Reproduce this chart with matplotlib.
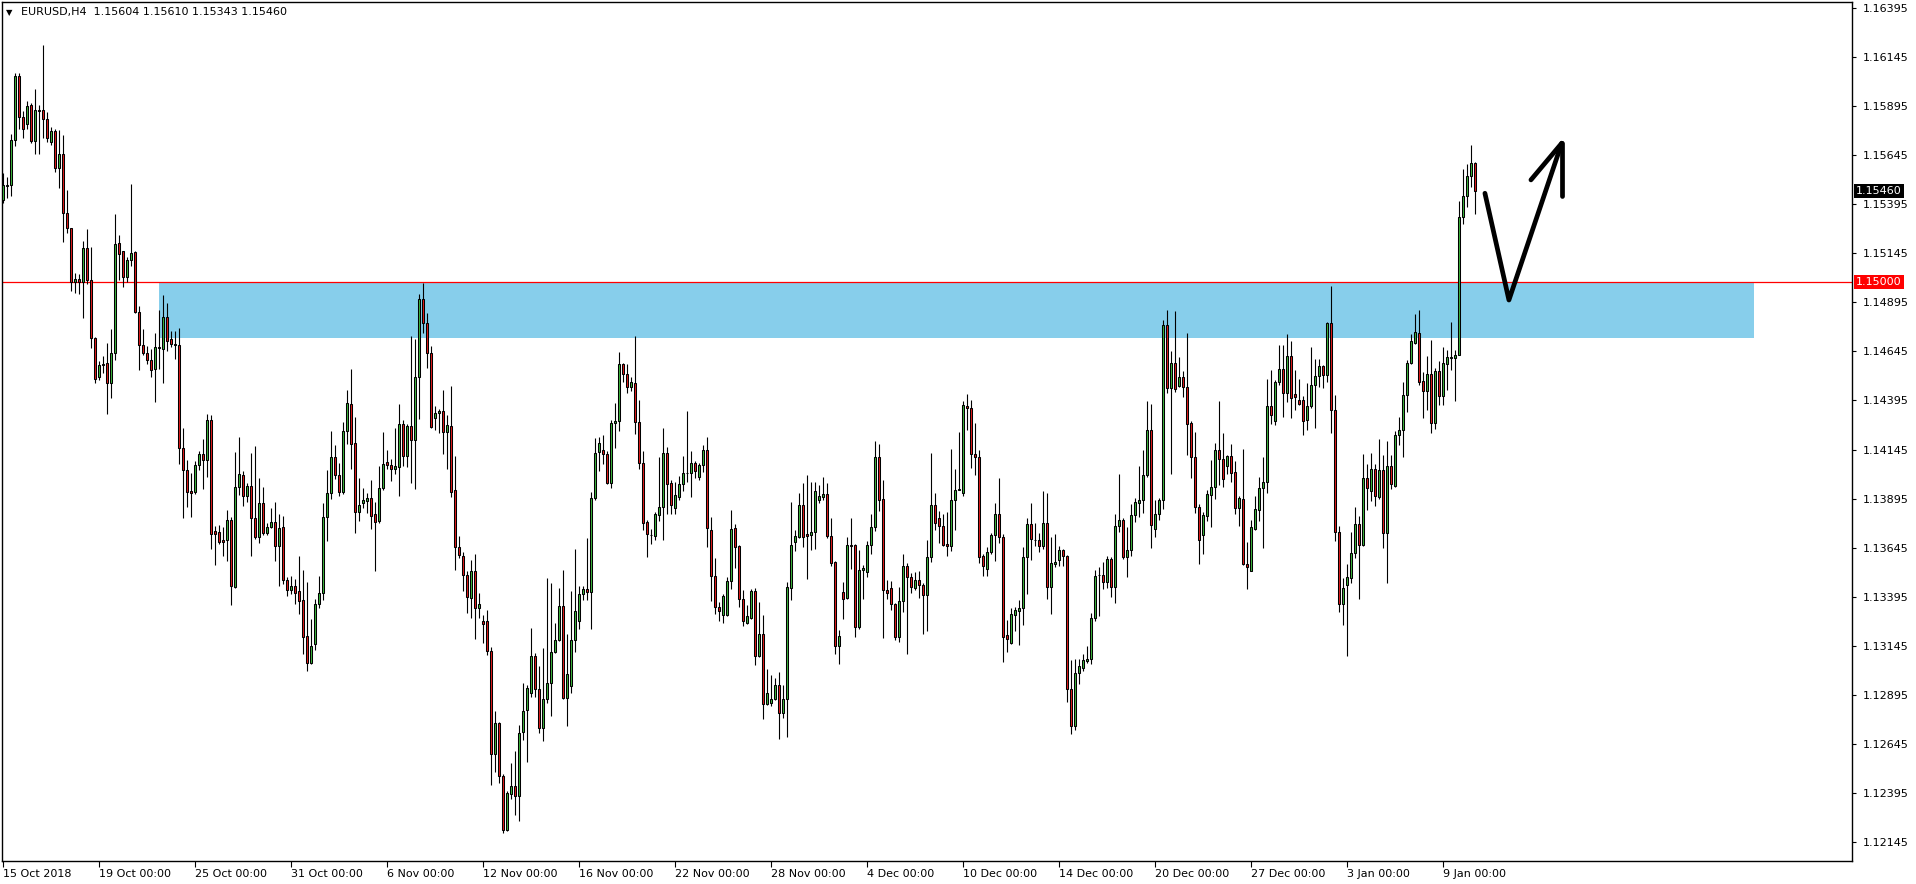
import numpy as np
import matplotlib
matplotlib.use("Agg")
import matplotlib.pyplot as plt
from matplotlib.patches import Rectangle

# ---------------- data (EURUSD H4) ----------------
open_ = [
 1.15416,1.15490,1.15493,1.15722,1.16048,1.15838,1.15802,1.15900,1.15719,1.15875,
 1.15875,1.15827,1.15713,1.15768,1.15578,1.15651,1.15348,1.15272,1.15000,1.15013,
 1.15000,1.15170,1.15008,1.14711,1.14515,1.14575,1.14587,1.14486,1.14639,1.15195,
 1.15156,1.15025,1.15110,1.15153,1.14847,1.14680,1.14637,1.14603,1.14553,1.14666,
 1.14655,1.14819,1.14708,1.14681,1.14676,1.14154,1.14043,1.13935,1.13930,1.14064,
 1.14120,1.14094,1.14298,1.13729,1.13726,1.13683,1.13683,1.13788,1.13442,1.13955,
 1.14013,1.13910,1.13958,1.13794,1.13700,1.13875,1.13720,1.13751,1.13778,1.13654,
 1.13749,1.13482,1.13431,1.13448,1.13423,1.13377,1.13193,1.13057,1.13156,1.13360,
 1.13416,1.13799,1.13926,1.14105,1.14015,1.13930,1.14239,1.14375,1.14176,1.13828,
 1.13873,1.13884,1.13897,1.13814,1.13781,1.13947,1.14084,1.14064,1.14047,1.14057,
 1.14273,1.14113,1.14263,1.14196,1.14513,1.14910,1.14788,1.14638,1.14304,1.14329,
 1.14343,1.14234,1.14264,1.13938,1.13649,1.13601,1.13505,1.13391,1.13527,1.13340,
 1.13270,1.13270,1.13117,1.12595,1.12751,1.12479,1.12204,1.12391,1.12430,1.12379,
 1.12705,1.12816,1.12904,1.13093,1.12927,1.12728,1.12872,1.12957,1.13114,1.13173,
 1.13346,1.12879,1.12940,1.13173,1.13270,1.13411,1.13435,1.13420,1.13896,1.14130,
 1.14145,1.14120,1.13975,1.14278,1.14290,1.14579,1.14528,1.14465,1.14482,1.14286,
 1.14074,1.13775,1.13708,1.13703,1.13810,1.13853,1.14125,1.13972,1.13848,1.13901,
 1.13967,1.14026,1.14028,1.14074,1.14006,1.14064,1.14142,1.13737,1.13501,1.13343,
 1.13304,1.13304,1.13474,1.13743,1.13653,1.13384,1.13261,1.13287,1.13426,1.13093,
 1.13204,1.12850,1.12853,1.12875,1.12943,1.12804,1.12875,1.13437,1.13675,1.13700,
 1.13862,1.13714,1.13712,1.13727,1.13890,1.13904,1.13916,1.13703,1.13572,1.13144,
 1.13418,1.13386,1.13661,1.13658,1.13241,1.13533,1.13522,1.13661,1.13750,1.14105,
 1.13892,1.13428,1.13437,1.13360,1.13190,1.13372,1.13554,1.13496,1.13437,1.13479,
 1.13457,1.13406,1.13595,1.13862,1.13794,1.13756,1.13666,1.13654,1.13887,1.13941,
 1.13924,1.14366,1.14355,1.14122,1.14105,1.13601,1.13538,1.13623,1.13709,1.13819,
 1.13697,1.13199,1.13161,1.13304,1.13323,1.13335,1.13595,1.13768,1.13683,1.13683,
 1.13654,1.13773,1.13445,1.13564,1.13584,1.13632,1.13603,1.12927,1.12736,1.13008,
 1.13033,1.13068,1.13080,1.13289,1.13506,1.13506,1.13470,1.13586,1.13445,1.13756,
 1.13788,1.13598,1.13635,1.13809,1.13875,1.13890,1.14015,1.14247,1.13742,1.13814,
 1.13890,1.14778,1.14457,1.14584,1.14470,1.14516,1.14462,1.14278,1.14105,1.13853,
 1.13709,1.13805,1.13912,1.13956,1.14145,1.14099,1.14062,1.14111,1.14033,1.13847,
 1.13895,1.13564,1.13528,1.13740,1.13835,1.13950,1.13981,1.14369,1.14292,1.14487,
 1.14554,1.14433,1.14620,1.14426,1.14395,1.14395,1.14297,1.14369,1.14473,1.14521,
 1.14570,1.14525,1.14789,1.14349,1.13726,1.13359,1.13455,1.13490,1.13616,1.13766,
 1.13657,1.13999,1.13933,1.14047,1.13904,1.14042,1.13719,1.14059,1.13961,1.14218,
 1.14244,1.14421,1.14585,1.14689,1.14740,1.14494,1.14444,1.14528,1.14280,1.14547,
 1.14418,1.14582,1.14614,1.14614,1.14628,1.15332,1.15439,1.15539,1.15604]
high = [
 1.15552,1.15535,1.15753,1.16062,1.16062,1.15870,1.15921,1.15912,1.15980,1.15900,
 1.16207,1.15865,1.15790,1.15780,1.15773,1.15748,1.15467,1.15275,1.15047,1.15039,
 1.15209,1.15268,1.15175,1.14720,1.14595,1.14620,1.14690,1.14758,1.15345,1.15238,
 1.15158,1.15127,1.15498,1.15156,1.14876,1.14758,1.14671,1.14659,1.14740,1.14856,
 1.14933,1.14893,1.14750,1.14750,1.14763,1.14253,1.14094,1.14023,1.14088,1.14137,
 1.14198,1.14326,1.14320,1.13756,1.13763,1.13751,1.13836,1.13799,1.14134,1.14207,
 1.14037,1.13972,1.14128,1.14162,1.13998,1.13952,1.13773,1.13846,1.13877,1.13816,
 1.13805,1.13496,1.13499,1.13484,1.13601,1.13530,1.13469,1.13280,1.13382,1.13499,
 1.13875,1.14040,1.14239,1.14168,1.14074,1.14283,1.14448,1.14555,1.14312,1.13999,
 1.13947,1.13924,1.13989,1.13877,1.14060,1.14234,1.14142,1.14098,1.14256,1.14377,
 1.14295,1.14273,1.14723,1.14706,1.14938,1.14994,1.14840,1.14672,1.14366,1.14350,
 1.14448,1.14321,1.14468,1.14111,1.13703,1.13624,1.13527,1.13584,1.13615,1.13416,
 1.13300,1.13326,1.13139,1.12813,1.12757,1.12493,1.12403,1.12547,1.12607,1.12743,
 1.12957,1.12947,1.13236,1.13110,1.13041,1.13136,1.13488,1.13467,1.13261,1.13437,
 1.13533,1.13204,1.13423,1.13639,1.13450,1.13450,1.13692,1.13930,1.14202,1.14210,
 1.14219,1.14139,1.14295,1.14383,1.14644,1.14584,1.14579,1.14513,1.14725,1.14397,
 1.14139,1.13785,1.13740,1.13828,1.14108,1.14253,1.14156,1.13992,1.13980,1.14010,
 1.14111,1.14341,1.14137,1.14088,1.14077,1.14168,1.14210,1.13802,1.13593,1.13367,
 1.13408,1.13496,1.13836,1.13765,1.13661,1.13428,1.13351,1.13433,1.13440,1.13369,
 1.13300,1.13025,1.12994,1.12983,1.13010,1.12943,1.13471,1.13878,1.13734,1.13921,
 1.13972,1.14015,1.13979,1.13980,1.13962,1.14003,1.13972,1.13794,1.13576,1.13224,
 1.13469,1.13697,1.13794,1.13663,1.13635,1.13559,1.13680,1.13819,1.14188,1.14173,
 1.13989,1.13480,1.13476,1.13363,1.13442,1.13612,1.13567,1.13516,1.13520,1.13525,
 1.13465,1.13683,1.14125,1.13926,1.13833,1.13819,1.13828,1.14150,1.14045,1.14235,
 1.14392,1.14428,1.14397,1.14278,1.14145,1.13615,1.13649,1.13720,1.13871,1.13998,
 1.13714,1.13275,1.13335,1.13343,1.13377,1.13646,1.13794,1.13871,1.13771,1.13720,
 1.13933,1.13921,1.13697,1.13717,1.13653,1.13640,1.13607,1.13071,1.13076,1.13080,
 1.13105,1.13142,1.13314,1.13533,1.13547,1.13572,1.13601,1.13598,1.13819,1.14019,
 1.13794,1.13751,1.13867,1.13900,1.14060,1.14142,1.14392,1.14377,1.13887,1.13900,
 1.14805,1.14856,1.14647,1.14851,1.14618,1.14545,1.14740,1.14290,1.14234,1.13869,
 1.13826,1.13938,1.14090,1.14180,1.14390,1.14228,1.14119,1.14171,1.14085,1.13907,
 1.14148,1.13676,1.13786,1.13907,1.14007,1.14107,1.14504,1.14550,1.14499,1.14677,
 1.14680,1.14735,1.14697,1.14549,1.14507,1.14418,1.14482,1.14666,1.14606,1.14604,
 1.14577,1.14796,1.14978,1.14425,1.13757,1.13490,1.13564,1.13723,1.13852,1.13805,
 1.14123,1.14073,1.14125,1.14073,1.14197,1.14119,1.14188,1.14116,1.14240,1.14309,
 1.14490,1.14601,1.14735,1.14835,1.14856,1.14539,1.14620,1.14702,1.14563,1.14597,
 1.14666,1.14651,1.14796,1.14654,1.15413,1.15575,1.15600,1.15697,1.15610]
low = [
 1.15399,1.15425,1.15438,1.15693,1.15776,1.15734,1.15776,1.15708,1.15651,1.15651,
 1.15731,1.15713,1.15697,1.15561,1.15476,1.15204,1.15246,1.14954,1.14945,1.14940,
 1.14813,1.14991,1.14660,1.14485,1.14501,1.14535,1.14328,1.14408,1.14600,1.15011,
 1.14974,1.15000,1.15081,1.14840,1.14549,1.14625,1.14583,1.14515,1.14389,1.14553,
 1.14485,1.14649,1.14669,1.14608,1.14069,1.13794,1.13853,1.13802,1.13916,1.14040,
 1.13945,1.14003,1.13639,1.13559,1.13666,1.13603,1.13578,1.13355,1.13437,1.13912,
 1.13858,1.13878,1.13603,1.13690,1.13670,1.13712,1.13708,1.13746,1.13578,1.13450,
 1.13462,1.13401,1.13411,1.13360,1.13309,1.13105,1.13017,1.13050,1.13125,1.13338,
 1.13377,1.13680,1.13894,1.13993,1.13910,1.13918,1.14171,1.14045,1.13720,1.13782,
 1.13845,1.13824,1.13741,1.13527,1.13771,1.13938,1.14045,1.13986,1.14018,1.13910,
 1.14062,1.14057,1.13975,1.13945,1.14302,1.14737,1.14559,1.14253,1.14247,1.14227,
 1.14122,1.14045,1.13901,1.13530,1.13590,1.13423,1.13312,1.13289,1.13182,1.13287,
 1.13161,1.13097,1.12434,1.12502,1.12445,1.12190,1.12201,1.12366,1.12284,1.12252,
 1.12666,1.12553,1.12884,1.12884,1.12701,1.12660,1.12853,1.12785,1.13109,1.13170,
 1.12875,1.12734,1.12904,1.13114,1.13232,1.13380,1.13380,1.13232,1.13890,1.14037,
 1.14071,1.13967,1.13947,1.14151,1.14239,1.14491,1.14431,1.14445,1.14224,1.14045,
 1.13737,1.13598,1.13663,1.13686,1.13780,1.13683,1.13814,1.13816,1.13814,1.13887,
 1.13935,1.13980,1.13904,1.14001,1.13989,1.14032,1.13649,1.13372,1.13309,1.13272,
 1.13263,1.13295,1.13436,1.13542,1.13343,1.13246,1.13255,1.13282,1.13046,1.13088,
 1.12770,1.12842,1.12836,1.12867,1.12668,1.12779,1.12680,1.13377,1.13627,1.13692,
 1.13646,1.13484,1.13632,1.13639,1.13875,1.13887,1.13692,1.13552,1.13102,1.13051,
 1.13280,1.13384,1.13535,1.13190,1.13232,1.13382,1.13494,1.13615,1.13731,1.13833,
 1.13185,1.13382,1.13326,1.13173,1.13164,1.13318,1.13102,1.13416,1.13431,1.13389,
 1.13207,1.13221,1.13572,1.13737,1.13670,1.13653,1.13603,1.13629,1.13737,1.13938,
 1.13909,1.14244,1.14052,1.14015,1.13567,1.13501,1.13501,1.13612,1.13576,1.13671,
 1.13063,1.13114,1.13156,1.13219,1.13148,1.13250,1.13411,1.13581,1.13653,1.13624,
 1.13637,1.13382,1.13306,1.13547,1.13552,1.13552,1.12859,1.12697,1.12714,1.12952,
 1.13017,1.13057,1.13054,1.13270,1.13295,1.13435,1.13440,1.13394,1.13365,1.13726,
 1.13589,1.13496,1.13603,1.13777,1.13802,1.13824,1.14006,1.13642,1.13700,1.13785,
 1.13844,1.14434,1.14019,1.14440,1.14462,1.14414,1.14117,1.13998,1.13824,1.13564,
 1.13611,1.13783,1.13749,1.13892,1.13964,1.13952,1.14020,1.13981,1.13818,1.13754,
 1.13559,1.13433,1.13524,1.13736,1.13783,1.13645,1.13924,1.14275,1.14269,1.14476,
 1.14309,1.14387,1.14304,1.14347,1.14373,1.14219,1.14245,1.14356,1.14257,1.14464,
 1.14461,1.14487,1.14231,1.13679,1.13317,1.13253,1.13093,1.13464,1.13593,1.13383,
 1.13654,1.13835,1.13883,1.13857,1.13895,1.13645,1.13464,1.13942,1.13955,1.14168,
 1.14107,1.14338,1.14582,1.14683,1.14473,1.14308,1.14344,1.14231,1.14252,1.14373,
 1.14373,1.14447,1.14551,1.14392,1.14625,1.15292,1.15382,1.15481,1.15343]
close = [
 1.15493,1.15495,1.15722,1.16048,1.15838,1.15776,1.15895,1.15719,1.15875,1.15872,
 1.15827,1.15731,1.15768,1.15578,1.15651,1.15348,1.15272,1.15000,1.15013,1.15000,
 1.15170,1.15008,1.14711,1.14507,1.14575,1.14583,1.14486,1.14639,1.15190,1.15139,
 1.15025,1.15110,1.15149,1.14847,1.14680,1.14637,1.14603,1.14552,1.14666,1.14660,
 1.14819,1.14700,1.14681,1.14680,1.14154,1.14043,1.13930,1.13921,1.14064,1.14120,
 1.14094,1.14298,1.13717,1.13717,1.13675,1.13675,1.13788,1.13448,1.13955,1.14018,
 1.13910,1.13958,1.13794,1.13700,1.13875,1.13720,1.13751,1.13778,1.13654,1.13744,
 1.13482,1.13431,1.13448,1.13414,1.13372,1.13190,1.13057,1.13142,1.13360,1.13416,
 1.13799,1.13926,1.14105,1.14015,1.13930,1.14239,1.14380,1.14171,1.13828,1.13860,
 1.13890,1.13897,1.13807,1.13776,1.13947,1.14069,1.14067,1.14047,1.14059,1.14273,
 1.14113,1.14263,1.14196,1.14513,1.14910,1.14788,1.14635,1.14258,1.14329,1.14343,
 1.14234,1.14270,1.13930,1.13649,1.13607,1.13505,1.13394,1.13527,1.13340,1.13360,
 1.13258,1.13117,1.12595,1.12751,1.12479,1.12204,1.12394,1.12430,1.12379,1.12700,
 1.12811,1.12930,1.13093,1.12927,1.12728,1.12872,1.12957,1.13114,1.13173,1.13346,
 1.12879,1.13003,1.13173,1.13323,1.13409,1.13435,1.13420,1.13896,1.14125,1.14179,
 1.14120,1.13975,1.14281,1.14290,1.14579,1.14530,1.14465,1.14489,1.14283,1.14077,
 1.13771,1.13715,1.13710,1.13814,1.13853,1.14125,1.13967,1.13862,1.13913,1.13969,
 1.14026,1.14028,1.14074,1.14037,1.14064,1.14142,1.13743,1.13501,1.13343,1.13323,
 1.13397,1.13474,1.13740,1.13649,1.13384,1.13272,1.13295,1.13426,1.13093,1.13204,
 1.12850,1.12906,1.12875,1.12943,1.12804,1.12875,1.13442,1.13661,1.13703,1.13862,
 1.13700,1.13705,1.13727,1.13933,1.13907,1.13916,1.13705,1.13567,1.13144,1.13193,
 1.13382,1.13661,1.13654,1.13241,1.13533,1.13539,1.13661,1.13750,1.14105,1.13887,
 1.13428,1.13414,1.13360,1.13190,1.13372,1.13554,1.13496,1.13442,1.13479,1.13457,
 1.13406,1.13596,1.13862,1.13771,1.13756,1.13661,1.13654,1.13887,1.13941,1.13943,
 1.14370,1.14355,1.14120,1.14108,1.13598,1.13552,1.13623,1.13709,1.13816,1.13697,
 1.13190,1.13178,1.13306,1.13326,1.13335,1.13595,1.13765,1.13690,1.13685,1.13654,
 1.13773,1.13445,1.13569,1.13574,1.13632,1.13603,1.12927,1.12736,1.13008,1.13040,
 1.13071,1.13080,1.13289,1.13503,1.13508,1.13470,1.13586,1.13445,1.13756,1.13788,
 1.13598,1.13635,1.13809,1.13877,1.13890,1.14015,1.14247,1.13763,1.13814,1.13890,
 1.14778,1.14457,1.14584,1.14451,1.14516,1.14462,1.14273,1.14105,1.13853,1.13683,
 1.13809,1.13916,1.13956,1.14145,1.14097,1.13995,1.14114,1.14028,1.13847,1.13900,
 1.13564,1.13545,1.13749,1.13840,1.13950,1.13981,1.14366,1.14323,1.14490,1.14554,
 1.14433,1.14620,1.14409,1.14413,1.14378,1.14290,1.14369,1.14473,1.14521,1.14570,
 1.14525,1.14789,1.14349,1.13726,1.13359,1.13441,1.13493,1.13616,1.13766,1.13657,
 1.13999,1.13950,1.14047,1.13907,1.14042,1.13719,1.14059,1.13970,1.14218,1.14244,
 1.14421,1.14585,1.14697,1.14746,1.14487,1.14444,1.14528,1.14280,1.14547,1.14418,
 1.14585,1.14616,1.14616,1.14628,1.15332,1.15439,1.15539,1.15604,1.15460]

date_labels = ["15 Oct 2018", "19 Oct 00:00", "25 Oct 00:00", "31 Oct 00:00",
               "6 Nov 00:00", "12 Nov 00:00", "16 Nov 00:00", "22 Nov 00:00",
               "28 Nov 00:00", "4 Dec 00:00", "10 Dec 00:00", "14 Dec 00:00",
               "20 Dec 00:00", "27 Dec 00:00", "3 Jan 00:00", "9 Jan 00:00"]
bars_per_label = 24
price_ticks = [1.16395, 1.16145, 1.15895, 1.15645, 1.15395, 1.15145, 1.14895,
               1.14645, 1.14395, 1.14145, 1.13895, 1.13645, 1.13395, 1.13145,
               1.12895, 1.12645, 1.12395, 1.12145]
level_price = 1.15000
last_price = 1.15460
header = "EURUSD,H4  1.15604 1.15610 1.15343 1.15460"

# support/resistance zone and hand-drawn arrow (bar index, price)
zone_bars = (38.9, 437.7)
zone_prices = (1.14711, 1.15000)
arrow_x = [370.4, 376.4, 389.6]
arrow_y = [1.15451, 1.14907, 1.15706]
barb1_x = [381.9, 389.6]
barb1_y = [1.15519, 1.15706]
barb2_x = [389.6, 389.6]
barb2_y = [1.15437, 1.15706]

GREEN = "#3CB43C"
RED = "#E01B1B"

# ---------------- figure ----------------
W, H = 1916, 884
fig = plt.figure(figsize=(W / 100, H / 100), dpi=100)
left_px, right_px, top_px, bot_px = 2, 1852, 2, 861
ax = fig.add_axes([left_px / W, (H - bot_px) / H,
                   (right_px - left_px) / W, (bot_px - top_px) / H])

o = np.array(open_); h = np.array(high); l = np.array(low); c = np.array(close)
x = np.arange(len(c))
cols = np.where(c >= o, GREEN, RED)

# zone + level line
ax.add_patch(Rectangle((zone_bars[0], zone_prices[0]), zone_bars[1] - zone_bars[0],
                       zone_prices[1] - zone_prices[0], facecolor="#87CEEB",
                       edgecolor="none", zorder=1))
ax.axhline(level_price, color="#FF0000", linewidth=0.9, zorder=2)

# candles
ax.vlines(x, l, h, color="black", linewidth=0.8, zorder=3)
body = c - o
body = np.where(np.abs(body) < 0.00001, 0.00001, body)
ax.bar(x, body, bottom=o, width=0.5, color=cols, edgecolor="black",
       linewidth=0.75, zorder=4)

# arrow drawing
kw = dict(color="black", linewidth=3.4, solid_capstyle="round",
          solid_joinstyle="round", zorder=6)
ax.plot(arrow_x, arrow_y, **kw)
ax.plot(barb1_x, barb1_y, **kw)
ax.plot(barb2_x, barb2_y, **kw)

# limits (px -> data)
px_per_bar = 4.0
bar0_px = 3.33
ax.set_xlim((left_px - bar0_px) / px_per_bar, (right_px - bar0_px) / px_per_bar)
px_per_price = 19624.0
p_ref, y_ref = 1.16395, 8.0
ax.set_ylim(p_ref - (bot_px - y_ref) / px_per_price,
            p_ref + (y_ref - top_px) / px_per_price)

# axes styling
for s in ax.spines.values():
    s.set_color("black"); s.set_linewidth(1.0)
ax.yaxis.tick_right()
ax.set_yticks(price_ticks)
ax.set_yticklabels([f"{p:.5f}" for p in price_ticks])
ax.tick_params(axis="y", direction="out", length=3, width=0.8, pad=5,
               labelsize=8, colors="black")
xt = [i * bars_per_label for i in range(len(date_labels))]
ax.set_xticks(xt)
ax.set_xticklabels(date_labels, ha="left")
ax.tick_params(axis="x", direction="out", length=4, width=0.8, pad=2,
               labelsize=8, colors="black")

# price labels on the right scale
ytr = ax.get_yaxis_transform()
ax.text(1.0 + 4 / (right_px - left_px), last_price, f"{last_price:.5f}",
        transform=ytr, ha="left", va="center", fontsize=8, color="white",
        bbox=dict(boxstyle="square,pad=0.18", fc="black", ec="none"),
        zorder=10, clip_on=False)
ax.text(1.0 + 4 / (right_px - left_px), level_price, f"{level_price:.5f}",
        transform=ytr, ha="left", va="center", fontsize=8, color="white",
        bbox=dict(boxstyle="square,pad=0.18", fc="#FF0000", ec="none"),
        zorder=10, clip_on=False)

# header
fig.text(6 / W, 1 - 12.5 / H, "▼", fontsize=6, va="center", ha="left")
fig.text(21 / W, 1 - 12.5 / H, header, fontsize=8, va="center", ha="left")

fig.savefig("out.png", dpi=100, facecolor="white")
